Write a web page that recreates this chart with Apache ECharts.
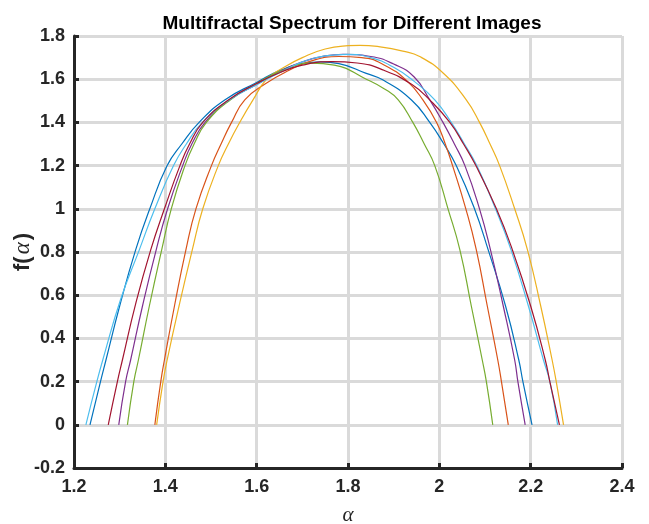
<!DOCTYPE html>
<html>
<head>
<meta charset="utf-8">
<script src="https://cdn.jsdelivr.net/npm/echarts@6/dist/echarts.min.js"></script>
<style>
html,body{margin:0;padding:0;background:#fff;}
#chart{width:649px;height:524px;}
</style>
</head>
<body>
<div id="chart"></div>
<script>
// Chart values (alpha, f(alpha))
const titleText = 'Multifractal Spectrum for Different Images';
const xTicks = [1.2, 1.4, 1.6, 1.8, 2.0, 2.2, 2.4];
const yTicks = [-0.2, 0, 0.2, 0.4, 0.6, 0.8, 1.0, 1.2, 1.4, 1.6, 1.8];

const curveBlue = [[1.235,0],[1.258,0.2],[1.270,0.3],[1.300,0.55],[1.335,0.81],[1.366,1.0],[1.404,1.2],[1.436,1.3],[1.474,1.4],[1.530,1.504],[1.60,1.585],[1.65,1.64],[1.70,1.672],[1.74,1.68],[1.78,1.672],[1.84,1.627],[1.877,1.596],[1.939,1.504],[1.979,1.4],[2.010,1.3],[2.037,1.2],[2.077,1.0],[2.107,0.81],[2.145,0.55],[2.174,0.3],[2.183,0.2],[2.203,0]];
const curveOrange = [[1.377,0],[1.390,0.2],[1.398,0.3],[1.420,0.55],[1.445,0.81],[1.467,1.0],[1.501,1.2],[1.522,1.3],[1.545,1.4],[1.574,1.504],[1.62,1.58],[1.67,1.64],[1.72,1.685],[1.78,1.705],[1.83,1.70],[1.88,1.665],[1.93,1.59],[1.964,1.504],[1.994,1.4],[2.013,1.3],[2.029,1.2],[2.058,1.0],[2.081,0.81],[2.105,0.55],[2.128,0.3],[2.136,0.2],[2.151,0]];
const curveYellow = [[1.381,0],[1.395,0.2],[1.404,0.3],[1.430,0.55],[1.459,0.81],[1.482,1.0],[1.516,1.2],[1.538,1.3],[1.563,1.4],[1.592,1.504],[1.622,1.6],[1.66,1.655],[1.70,1.70],[1.75,1.74],[1.80,1.755],[1.826,1.757],[1.87,1.75],[1.92,1.73],[1.957,1.705],[2.01,1.625],[2.059,1.504],[2.088,1.4],[2.111,1.3],[2.132,1.2],[2.165,1.0],[2.193,0.81],[2.222,0.55],[2.247,0.3],[2.256,0.2],[2.272,0]];
const curvePurple = [[1.298,0],[1.313,0.2],[1.324,0.3],[1.350,0.55],[1.380,0.81],[1.405,1.0],[1.438,1.2],[1.458,1.3],[1.487,1.4],[1.540,1.504],[1.60,1.575],[1.65,1.635],[1.70,1.68],[1.75,1.708],[1.789,1.715],[1.85,1.705],[1.90,1.67],[1.945,1.61],[1.979,1.504],[2.008,1.4],[2.033,1.3],[2.056,1.2],[2.088,1.0],[2.112,0.81],[2.140,0.55],[2.165,0.3],[2.172,0.2],[2.188,0]];
const curveGreen = [[1.317,0],[1.331,0.2],[1.341,0.3],[1.365,0.55],[1.392,0.81],[1.413,1.0],[1.443,1.2],[1.463,1.3],[1.490,1.4],[1.542,1.504],[1.60,1.58],[1.65,1.635],[1.72,1.674],[1.77,1.665],[1.84,1.6],[1.88,1.555],[1.910,1.504],[1.942,1.4],[1.967,1.3],[1.990,1.2],[2.019,1.0],[2.045,0.81],[2.070,0.55],[2.094,0.3],[2.103,0.2],[2.117,0]];
const curveLightBlue = [[1.226,0],[1.250,0.2],[1.263,0.3],[1.302,0.58],[1.343,0.81],[1.377,1.0],[1.418,1.2],[1.446,1.3],[1.481,1.4],[1.540,1.504],[1.60,1.575],[1.65,1.63],[1.70,1.68],[1.75,1.708],[1.797,1.715],[1.85,1.70],[1.90,1.655],[1.945,1.59],[1.990,1.504],[2.026,1.4],[2.055,1.3],[2.082,1.2],[2.123,1.0],[2.157,0.81],[2.195,0.55],[2.228,0.3],[2.242,0.2],[2.259,0]];
const curveDarkRed = [[1.275,0],[1.295,0.2],[1.306,0.3],[1.335,0.56],[1.368,0.81],[1.398,1.0],[1.432,1.2],[1.453,1.3],[1.482,1.4],[1.538,1.504],[1.60,1.58],[1.65,1.63],[1.70,1.665],[1.765,1.681],[1.82,1.675],[1.88,1.64],[1.94,1.575],[1.979,1.504],[2.023,1.4],[2.053,1.3],[2.080,1.2],[2.125,1.0],[2.160,0.81],[2.200,0.55],[2.232,0.3],[2.242,0.2],[2.263,0]];

const curves = [curveBlue, curveOrange, curveYellow, curvePurple, curveGreen, curveLightBlue, curveDarkRed];
const colors = ['#0072BD','#D95319','#EDB120','#7E2F8E','#77AC30','#4DBEEE','#A2142F'];

const chart = echarts.init(document.getElementById('chart'), null, {renderer:'canvas'});
const axisColor = '#262626';
const gridLine = {show:true, lineStyle:{color:'#dadada', width:3, type:'solid'}};
const fontFam = 'Liberation Sans, Arial, sans-serif';

chart.setOption({
  animation:false,
  backgroundColor:'#ffffff',
  title:{
    text:titleText, left:347, textAlign:'center', top:9,
    textStyle:{fontFamily:fontFam, fontWeight:'bold', fontSize:19, color:'#000'}
  },
  grid:{left:74, right:27, top:36, bottom:56, containLabel:false, outerBoundsMode:'none'},
  xAxis:{
    type:'value', min:xTicks[0], max:xTicks[xTicks.length-1], interval:0.2,
    name:'α', nameLocation:'middle', nameGap:37, nameMoveOverlap:false,
    nameTextStyle:{fontFamily:'Liberation Serif, Times New Roman, serif', fontStyle:'italic', fontSize:21, color:axisColor},
    axisLine:{show:true, onZero:false, lineStyle:{color:axisColor, width:3}},
    axisTick:{show:true, inside:true, length:5, lineStyle:{color:axisColor, width:3}},
    axisLabel:{margin:10, fontFamily:fontFam, fontWeight:'bold', fontSize:18, color:axisColor},
    splitLine:gridLine
  },
  yAxis:{
    type:'value', min:yTicks[0], max:yTicks[yTicks.length-1], interval:0.2,
    name:'{a|f(}{b|α}{a|)}', nameLocation:'middle', nameGap:40, nameRotate:90, nameMoveOverlap:false,
    nameTextStyle:{
      rich:{
        a:{fontFamily:fontFam, fontWeight:'bold', fontSize:22, color:axisColor},
        b:{fontFamily:'Liberation Serif, Times New Roman, serif', fontStyle:'italic', fontSize:23, color:axisColor, padding:[0,2,0,2]}
      }
    },
    axisLine:{show:true, onZero:false, lineStyle:{color:axisColor, width:3}},
    axisTick:{show:true, inside:true, length:5, lineStyle:{color:axisColor, width:3}},
    axisLabel:{margin:9, fontFamily:fontFam, fontWeight:'bold', fontSize:18, color:axisColor,
      formatter:function(v){return (Math.round(v*10)/10).toString();}},
    splitLine:gridLine
  },
  series: curves.map(function(c,i){
    return {
      type:'line', data:c, showSymbol:false, smooth:0.5,
      lineStyle:{color:colors[i], width:1.2}, itemStyle:{color:colors[i]}
    };
  })
});
</script>
</body>
</html>
